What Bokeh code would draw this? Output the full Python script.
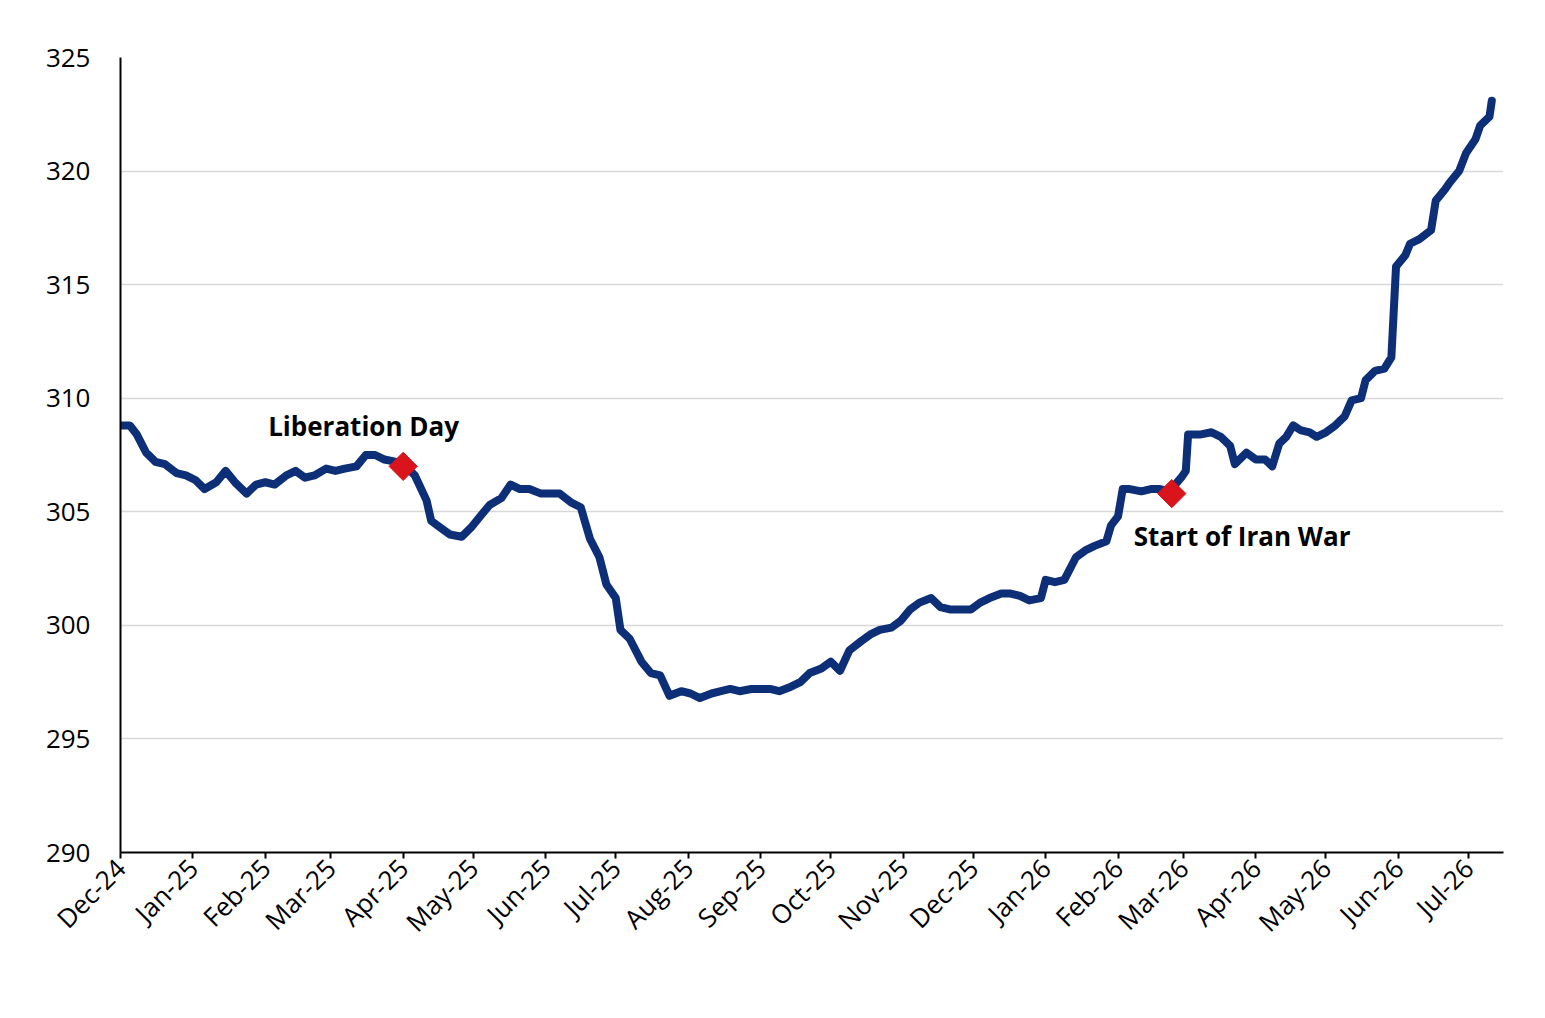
import datetime as dt
from bokeh.plotting import figure
from bokeh.models import Range1d, FixedTicker, DatetimeTickFormatter, Label
from bokeh.embed import file_html
from bokeh.resources import INLINE
import math

start = dt.datetime(2024, 12, 1)
day_offsets = [0,4,7,11,15,19,24,28,32,36,41,45,49,54,58,62,66,71,75,79,83,88,92,96,101,105,109,113,118,122,126,131,133,137,141,146,150,154,158,163,167,171,175,180,184,188,193,197,201,205,208,212,214,218,223,227,231,235,240,244,248,253,257,261,265,270,274,278,282,287,291,295,300,304,308,312,317,321,325,330,334,338,342,347,351,355,360,364,368,372,377,381,385,389,394,396,400,404,409,413,417,422,424,427,429,432,437,441,445,449,454,456,457,462,467,471,475,477,482,486,490,493,496,499,502,505,509,512,516,520,524,527,531,533,537,541,544,546,550,552,556,561,563,567,569,573,576,580,582,586,587]
values = [308.8,308.8,308.4,307.6,307.2,307.1,306.7,306.6,306.4,306.0,306.3,306.8,306.3,305.8,306.2,306.3,306.2,306.6,306.8,306.5,306.6,306.9,306.8,306.9,307.0,307.5,307.5,307.3,307.2,307.0,306.6,305.5,304.6,304.3,304.0,303.9,304.3,304.8,305.3,305.6,306.2,306.0,306.0,305.8,305.8,305.8,305.4,305.2,303.8,303.0,301.8,301.2,299.8,299.4,298.4,297.9,297.8,296.9,297.1,297.0,296.8,297.0,297.1,297.2,297.1,297.2,297.2,297.2,297.1,297.3,297.5,297.9,298.1,298.4,298.0,298.9,299.3,299.6,299.8,299.9,300.2,300.7,301.0,301.2,300.8,300.7,300.7,300.7,301.0,301.2,301.4,301.4,301.3,301.1,301.2,302.0,301.9,302.0,303.0,303.3,303.5,303.7,304.4,304.8,306.0,306.0,305.9,306.0,306.0,305.9,306.5,306.8,308.4,308.4,308.5,308.3,307.9,307.1,307.6,307.3,307.3,307.0,308.0,308.3,308.8,308.6,308.5,308.3,308.5,308.8,309.2,309.9,310.0,310.8,311.2,311.3,311.8,315.8,316.3,316.8,317.0,317.4,318.7,319.2,319.5,320.0,320.8,321.4,322.0,322.4,323.1]
dates = [start + dt.timedelta(days=d) for d in day_offsets]

events = ["Liberation Day", "Start of Iran War"]
event_dates = [dt.datetime(2025, 4, 1), dt.datetime(2026, 2, 24)]
event_values = [307.0, 305.8]

month_ticks = []
y, m = 2024, 12
for _ in range(20):
    month_ticks.append(dt.datetime(y, m, 1).timestamp() * 1000)
    m += 1
    if m > 12:
        m, y = 1, y + 1

p = figure(width=1529, height=1000, x_axis_type="datetime", output_backend="svg",
           toolbar_location=None, min_border_left=120, min_border_right=26,
           min_border_top=57, min_border_bottom=148)
p.x_range = Range1d(start, dt.datetime(2026, 7, 16))
p.y_range = Range1d(290, 325)
p.outline_line_color = None
p.background_fill_color = "white"

p.line(dates, values, line_width=8, color="#0d2f78", line_join="round", line_cap="round")
p.scatter(event_dates, event_values, marker="square", size=20, angle=math.pi / 4, color="#d9141c")

p.add_layout(Label(x=event_dates[0], y=event_values[0], text=events[0], x_offset=-135, y_offset=22,
                   text_font="Open Sans", text_font_style="bold", text_font_size="26px", text_color="black"))
p.add_layout(Label(x=event_dates[1], y=event_values[1], text=events[1], x_offset=-38, y_offset=-60,
                   text_font="Open Sans", text_font_style="bold", text_font_size="26px", text_color="black"))

p.xgrid.grid_line_color = None
p.ygrid.grid_line_color = "#d8d8d8"
p.ygrid.grid_line_width = 1.5
p.yaxis.ticker = FixedTicker(ticks=list(range(290, 326, 5)))
p.xaxis.ticker = FixedTicker(ticks=month_ticks)
p.xaxis.formatter = DatetimeTickFormatter(months="%b-%y", days="%b-%y", years="%b-%y")
p.xaxis.major_label_orientation = math.pi / 4
for ax in (p.xaxis, p.yaxis):
    ax.axis_line_color = "black"
    ax.axis_line_width = 2
    ax.minor_tick_line_color = None
    ax.major_label_text_font = "Open Sans"
    ax.major_label_text_font_size = "26px"
    ax.major_label_text_color = "black"
p.yaxis.major_tick_line_color = None
p.yaxis.major_label_standoff = 24
p.xaxis.major_tick_line_color = "black"
p.xaxis.major_tick_line_width = 2
p.xaxis.major_tick_out = 6
p.xaxis.major_tick_in = 0

open("out.html", "w").write(file_html(p, INLINE))
